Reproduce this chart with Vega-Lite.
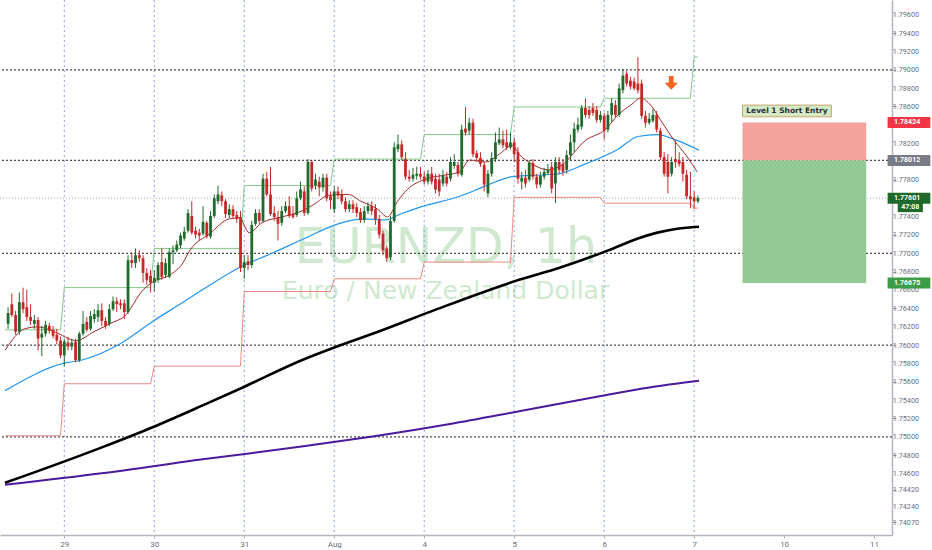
{
  "$schema": "https://vega.github.io/schema/vega-lite/v6.json",
  "width": 892,
  "height": 535,
  "autosize": {"type": "none"},
  "padding": {"left": 0, "top": 0, "right": 40, "bottom": 15},
  "background": "white",
  "config": {"view": {"stroke": null}, "font": "Roboto", "axis": {"labelOverlap": false}},
  "resolve": {"scale": {"color": "independent"}},
  "datasets": {
    "candles": [
      {"i":-15,"o":1.76231,"h":1.76412,"l":1.76177,"c":1.76348},
      {"i":-14,"o":1.76445,"h":1.76561,"l":1.76305,"c":1.76327},
      {"i":-13,"o":1.76327,"h":1.76370,"l":1.76113,"c":1.76145},
      {"i":-12,"o":1.76145,"h":1.76572,"l":1.76113,"c":1.76466},
      {"i":-11,"o":1.76466,"h":1.76625,"l":1.76348,"c":1.76391},
      {"i":-10,"o":1.76412,"h":1.76604,"l":1.76263,"c":1.76305},
      {"i":-9,"o":1.76305,"h":1.76445,"l":1.76220,"c":1.76263},
      {"i":-8,"o":1.76231,"h":1.76327,"l":1.76177,"c":1.76273},
      {"i":-7,"o":1.76273,"h":1.76305,"l":1.75942,"c":1.76070},
      {"i":-6,"o":1.76081,"h":1.76209,"l":1.75877,"c":1.76124},
      {"i":-5,"o":1.76124,"h":1.76263,"l":1.76091,"c":1.76220},
      {"i":-4,"o":1.76209,"h":1.76241,"l":1.76124,"c":1.76156},
      {"i":-3,"o":1.76166,"h":1.76209,"l":1.76070,"c":1.76102},
      {"i":-2,"o":1.76113,"h":1.76177,"l":1.76006,"c":1.76049},
      {"i":-1,"o":1.76049,"h":1.76091,"l":1.75856,"c":1.75888},
      {"i":0,"o":1.75888,"h":1.76070,"l":1.75770,"c":1.76038},
      {"i":1,"o":1.76027,"h":1.76091,"l":1.75942,"c":1.75984},
      {"i":2,"o":1.75984,"h":1.76070,"l":1.75942,"c":1.76027},
      {"i":3,"o":1.76038,"h":1.76070,"l":1.75813,"c":1.75835},
      {"i":4,"o":1.75835,"h":1.76145,"l":1.75813,"c":1.76124},
      {"i":5,"o":1.76124,"h":1.76370,"l":1.76102,"c":1.76231},
      {"i":6,"o":1.76252,"h":1.76305,"l":1.76145,"c":1.76166},
      {"i":7,"o":1.76177,"h":1.76370,"l":1.76156,"c":1.76316},
      {"i":8,"o":1.76284,"h":1.76391,"l":1.76241,"c":1.76338},
      {"i":9,"o":1.76305,"h":1.76445,"l":1.76252,"c":1.76380},
      {"i":10,"o":1.76380,"h":1.76455,"l":1.76209,"c":1.76263},
      {"i":11,"o":1.76263,"h":1.76305,"l":1.76177,"c":1.76209},
      {"i":12,"o":1.76231,"h":1.76445,"l":1.76209,"c":1.76391},
      {"i":13,"o":1.76391,"h":1.76529,"l":1.76370,"c":1.76477},
      {"i":14,"o":1.76477,"h":1.76519,"l":1.76359,"c":1.76445},
      {"i":15,"o":1.76455,"h":1.76498,"l":1.76391,"c":1.76434},
      {"i":16,"o":1.76455,"h":1.76498,"l":1.76284,"c":1.76359},
      {"i":17,"o":1.76359,"h":1.76979,"l":1.76338,"c":1.76925},
      {"i":18,"o":1.76925,"h":1.77011,"l":1.76839,"c":1.76893},
      {"i":19,"o":1.76893,"h":1.77053,"l":1.76839,"c":1.76979},
      {"i":20,"o":1.76979,"h":1.77032,"l":1.76904,"c":1.76946},
      {"i":21,"o":1.76946,"h":1.76979,"l":1.76679,"c":1.76786},
      {"i":22,"o":1.76786,"h":1.76839,"l":1.76658,"c":1.76711},
      {"i":23,"o":1.76754,"h":1.76818,"l":1.76572,"c":1.76679},
      {"i":24,"o":1.76679,"h":1.76818,"l":1.76583,"c":1.76732},
      {"i":25,"o":1.76711,"h":1.76904,"l":1.76679,"c":1.76872},
      {"i":26,"o":1.76904,"h":1.77053,"l":1.76711,"c":1.76743},
      {"i":27,"o":1.76765,"h":1.76946,"l":1.76732,"c":1.76893},
      {"i":28,"o":1.76743,"h":1.77053,"l":1.76732,"c":1.77011},
      {"i":29,"o":1.77011,"h":1.77085,"l":1.76882,"c":1.77032},
      {"i":30,"o":1.77032,"h":1.77139,"l":1.77011,"c":1.77096},
      {"i":31,"o":1.77085,"h":1.77225,"l":1.77053,"c":1.77193},
      {"i":32,"o":1.77161,"h":1.77289,"l":1.77139,"c":1.77235},
      {"i":33,"o":1.77246,"h":1.77481,"l":1.77225,"c":1.77439},
      {"i":34,"o":1.77407,"h":1.77567,"l":1.77203,"c":1.77225},
      {"i":35,"o":1.77246,"h":1.77289,"l":1.77161,"c":1.77203},
      {"i":36,"o":1.77225,"h":1.77268,"l":1.77139,"c":1.77193},
      {"i":37,"o":1.77214,"h":1.77514,"l":1.77193,"c":1.77343},
      {"i":38,"o":1.77332,"h":1.77353,"l":1.77161,"c":1.77182},
      {"i":39,"o":1.77182,"h":1.77460,"l":1.77161,"c":1.77407},
      {"i":40,"o":1.77407,"h":1.77642,"l":1.77385,"c":1.77600},
      {"i":41,"o":1.77567,"h":1.77738,"l":1.77535,"c":1.77642},
      {"i":42,"o":1.77631,"h":1.77674,"l":1.77514,"c":1.77567},
      {"i":43,"o":1.77567,"h":1.77589,"l":1.77385,"c":1.77428},
      {"i":44,"o":1.77417,"h":1.77535,"l":1.77385,"c":1.77481},
      {"i":45,"o":1.77481,"h":1.77524,"l":1.77375,"c":1.77407},
      {"i":46,"o":1.77417,"h":1.77460,"l":1.77332,"c":1.77375},
      {"i":47,"o":1.77396,"h":1.77460,"l":1.76797,"c":1.76839},
      {"i":48,"o":1.76839,"h":1.76979,"l":1.76722,"c":1.76904},
      {"i":49,"o":1.76914,"h":1.76979,"l":1.76818,"c":1.76872},
      {"i":50,"o":1.76872,"h":1.77353,"l":1.76839,"c":1.77310},
      {"i":51,"o":1.77321,"h":1.77481,"l":1.77300,"c":1.77439},
      {"i":52,"o":1.77439,"h":1.77481,"l":1.77321,"c":1.77353},
      {"i":53,"o":1.77353,"h":1.77867,"l":1.77332,"c":1.77813},
      {"i":54,"o":1.77813,"h":1.77888,"l":1.77621,"c":1.77642},
      {"i":55,"o":1.77642,"h":1.77942,"l":1.77407,"c":1.77428},
      {"i":56,"o":1.77439,"h":1.77514,"l":1.77353,"c":1.77396},
      {"i":57,"o":1.77396,"h":1.77460,"l":1.77139,"c":1.77321},
      {"i":58,"o":1.77332,"h":1.77514,"l":1.77300,"c":1.77460},
      {"i":59,"o":1.77460,"h":1.77567,"l":1.77439,"c":1.77514},
      {"i":60,"o":1.77514,"h":1.77621,"l":1.77385,"c":1.77407},
      {"i":61,"o":1.77428,"h":1.77514,"l":1.77375,"c":1.77396},
      {"i":62,"o":1.77417,"h":1.77674,"l":1.77396,"c":1.77600},
      {"i":63,"o":1.77600,"h":1.77781,"l":1.77578,"c":1.77695},
      {"i":64,"o":1.77674,"h":1.77728,"l":1.77407,"c":1.77439},
      {"i":65,"o":1.77439,"h":1.78027,"l":1.77417,"c":1.77995},
      {"i":66,"o":1.77995,"h":1.78016,"l":1.77674,"c":1.77706},
      {"i":67,"o":1.77738,"h":1.77867,"l":1.77695,"c":1.77803},
      {"i":68,"o":1.77781,"h":1.77835,"l":1.77621,"c":1.77717},
      {"i":69,"o":1.77717,"h":1.77867,"l":1.77674,"c":1.77824},
      {"i":70,"o":1.77824,"h":1.77867,"l":1.77567,"c":1.77600},
      {"i":71,"o":1.77621,"h":1.77674,"l":1.77481,"c":1.77578},
      {"i":72,"o":1.77481,"h":1.77728,"l":1.77439,"c":1.77674},
      {"i":73,"o":1.77674,"h":1.77728,"l":1.77589,"c":1.77631},
      {"i":74,"o":1.77642,"h":1.77695,"l":1.77535,"c":1.77567},
      {"i":75,"o":1.77567,"h":1.77610,"l":1.77449,"c":1.77481},
      {"i":76,"o":1.77481,"h":1.77578,"l":1.77449,"c":1.77535},
      {"i":77,"o":1.77535,"h":1.77578,"l":1.77439,"c":1.77481},
      {"i":78,"o":1.77503,"h":1.77546,"l":1.77396,"c":1.77439},
      {"i":79,"o":1.77449,"h":1.77492,"l":1.77332,"c":1.77364},
      {"i":80,"o":1.77364,"h":1.77514,"l":1.77332,"c":1.77460},
      {"i":81,"o":1.77460,"h":1.77556,"l":1.77428,"c":1.77514},
      {"i":82,"o":1.77514,"h":1.77567,"l":1.77417,"c":1.77460},
      {"i":83,"o":1.77481,"h":1.77535,"l":1.77310,"c":1.77375},
      {"i":84,"o":1.77375,"h":1.77417,"l":1.77161,"c":1.77203},
      {"i":85,"o":1.77214,"h":1.77246,"l":1.76979,"c":1.77032},
      {"i":86,"o":1.77053,"h":1.77085,"l":1.76904,"c":1.76946},
      {"i":87,"o":1.76957,"h":1.77407,"l":1.76925,"c":1.77353},
      {"i":88,"o":1.77353,"h":1.78209,"l":1.77332,"c":1.78155},
      {"i":89,"o":1.78134,"h":1.78294,"l":1.78102,"c":1.78187},
      {"i":90,"o":1.78187,"h":1.78230,"l":1.78016,"c":1.78048},
      {"i":91,"o":1.78027,"h":1.78102,"l":1.77803,"c":1.77835},
      {"i":92,"o":1.77835,"h":1.77909,"l":1.77781,"c":1.77813},
      {"i":93,"o":1.77813,"h":1.77931,"l":1.77781,"c":1.77856},
      {"i":94,"o":1.77845,"h":1.77942,"l":1.77803,"c":1.77867},
      {"i":95,"o":1.77867,"h":1.77942,"l":1.77803,"c":1.77835},
      {"i":96,"o":1.77835,"h":1.77888,"l":1.77749,"c":1.77781},
      {"i":97,"o":1.77781,"h":1.77909,"l":1.77749,"c":1.77867},
      {"i":98,"o":1.77867,"h":1.77942,"l":1.77749,"c":1.77781},
      {"i":99,"o":1.77813,"h":1.77867,"l":1.77653,"c":1.77695},
      {"i":100,"o":1.77803,"h":1.77867,"l":1.77621,"c":1.77674},
      {"i":101,"o":1.77760,"h":1.77909,"l":1.77728,"c":1.77845},
      {"i":102,"o":1.77835,"h":1.77888,"l":1.77728,"c":1.77760},
      {"i":103,"o":1.77813,"h":1.78048,"l":1.77781,"c":1.77995},
      {"i":104,"o":1.77952,"h":1.78080,"l":1.77920,"c":1.77995},
      {"i":105,"o":1.77963,"h":1.77995,"l":1.77835,"c":1.77867},
      {"i":106,"o":1.77856,"h":1.78402,"l":1.77835,"c":1.78348},
      {"i":107,"o":1.78359,"h":1.78594,"l":1.78284,"c":1.78316},
      {"i":108,"o":1.78337,"h":1.78477,"l":1.78295,"c":1.78423},
      {"i":109,"o":1.78423,"h":1.78466,"l":1.78048,"c":1.78080},
      {"i":110,"o":1.78091,"h":1.78123,"l":1.77995,"c":1.78038},
      {"i":111,"o":1.78038,"h":1.78102,"l":1.77942,"c":1.77974},
      {"i":112,"o":1.77963,"h":1.77995,"l":1.77674,"c":1.77749},
      {"i":113,"o":1.77653,"h":1.77909,"l":1.77610,"c":1.77867},
      {"i":114,"o":1.77867,"h":1.78102,"l":1.77835,"c":1.78038},
      {"i":115,"o":1.78027,"h":1.78316,"l":1.77995,"c":1.78209},
      {"i":116,"o":1.78198,"h":1.78370,"l":1.78177,"c":1.78241},
      {"i":117,"o":1.78241,"h":1.78337,"l":1.78145,"c":1.78177},
      {"i":118,"o":1.78209,"h":1.78348,"l":1.78123,"c":1.78155},
      {"i":119,"o":1.78155,"h":1.78316,"l":1.78134,"c":1.78209},
      {"i":120,"o":1.78209,"h":1.78262,"l":1.77995,"c":1.78080},
      {"i":121,"o":1.78102,"h":1.78155,"l":1.77760,"c":1.77813},
      {"i":122,"o":1.77781,"h":1.77888,"l":1.77695,"c":1.77824},
      {"i":123,"o":1.77824,"h":1.77909,"l":1.77717,"c":1.77760},
      {"i":124,"o":1.77803,"h":1.78016,"l":1.77781,"c":1.77984},
      {"i":125,"o":1.77984,"h":1.78027,"l":1.77803,"c":1.77835},
      {"i":126,"o":1.77835,"h":1.77867,"l":1.77706,"c":1.77749},
      {"i":127,"o":1.77749,"h":1.77888,"l":1.77717,"c":1.77845},
      {"i":128,"o":1.77835,"h":1.77931,"l":1.77803,"c":1.77888},
      {"i":129,"o":1.77877,"h":1.77974,"l":1.77856,"c":1.77909},
      {"i":130,"o":1.77942,"h":1.77995,"l":1.77653,"c":1.77706},
      {"i":131,"o":1.77760,"h":1.78048,"l":1.77546,"c":1.77995},
      {"i":132,"o":1.77995,"h":1.78048,"l":1.77867,"c":1.77909},
      {"i":133,"o":1.77974,"h":1.78027,"l":1.77845,"c":1.77888},
      {"i":134,"o":1.77909,"h":1.78123,"l":1.77867,"c":1.78070},
      {"i":135,"o":1.78070,"h":1.78295,"l":1.78016,"c":1.78209},
      {"i":136,"o":1.78209,"h":1.78423,"l":1.78102,"c":1.78359},
      {"i":137,"o":1.78348,"h":1.78477,"l":1.78316,"c":1.78402},
      {"i":138,"o":1.78380,"h":1.78615,"l":1.78348,"c":1.78583},
      {"i":139,"o":1.78583,"h":1.78690,"l":1.78477,"c":1.78508},
      {"i":140,"o":1.78562,"h":1.78604,"l":1.78466,"c":1.78508},
      {"i":141,"o":1.78583,"h":1.78637,"l":1.78498,"c":1.78530},
      {"i":142,"o":1.78562,"h":1.78604,"l":1.78423,"c":1.78455},
      {"i":143,"o":1.78455,"h":1.78551,"l":1.78423,"c":1.78508},
      {"i":144,"o":1.78498,"h":1.78530,"l":1.78241,"c":1.78337},
      {"i":145,"o":1.78348,"h":1.78551,"l":1.78316,"c":1.78508},
      {"i":146,"o":1.78508,"h":1.78690,"l":1.78423,"c":1.78637},
      {"i":147,"o":1.78615,"h":1.78669,"l":1.78477,"c":1.78508},
      {"i":148,"o":1.78508,"h":1.78850,"l":1.78487,"c":1.78797},
      {"i":149,"o":1.78776,"h":1.79011,"l":1.78743,"c":1.78936},
      {"i":150,"o":1.78957,"h":1.78989,"l":1.78818,"c":1.78850},
      {"i":151,"o":1.78882,"h":1.78925,"l":1.78786,"c":1.78818},
      {"i":152,"o":1.78872,"h":1.78915,"l":1.78776,"c":1.78797},
      {"i":153,"o":1.78850,"h":1.79139,"l":1.78743,"c":1.78776},
      {"i":154,"o":1.78850,"h":1.78893,"l":1.78466,"c":1.78498},
      {"i":155,"o":1.78498,"h":1.78551,"l":1.78370,"c":1.78423},
      {"i":156,"o":1.78423,"h":1.78530,"l":1.78402,"c":1.78466},
      {"i":157,"o":1.78444,"h":1.78572,"l":1.78423,"c":1.78508},
      {"i":158,"o":1.78508,"h":1.78551,"l":1.78316,"c":1.78348},
      {"i":159,"o":1.78337,"h":1.78370,"l":1.78016,"c":1.78048},
      {"i":160,"o":1.78048,"h":1.78102,"l":1.77835,"c":1.77867},
      {"i":161,"o":1.77995,"h":1.78080,"l":1.77653,"c":1.77835},
      {"i":162,"o":1.77867,"h":1.78048,"l":1.77835,"c":1.77995},
      {"i":163,"o":1.78027,"h":1.78230,"l":1.77931,"c":1.77995},
      {"i":164,"o":1.78016,"h":1.78102,"l":1.77942,"c":1.77974},
      {"i":165,"o":1.77995,"h":1.78048,"l":1.77781,"c":1.77867},
      {"i":166,"o":1.77856,"h":1.77909,"l":1.77589,"c":1.77621},
      {"i":167,"o":1.77621,"h":1.77888,"l":1.77492,"c":1.77589},
      {"i":168,"o":1.77610,"h":1.77674,"l":1.77481,"c":1.77567},
      {"i":169,"o":1.77567,"h":1.77631,"l":1.77546,"c":1.77601}
    ],
    "ma": [
      {"s":"fast","i":-15.82,"p":1.75942},{"s":"fast","i":-10.55,"p":1.76177},{"s":"fast","i":-7.12,"p":1.76198},{"s":"fast","i":-2.64,"p":1.76145},
      {"s":"fast","i":3.16,"p":1.76049},{"s":"fast","i":7.91,"p":1.76145},{"s":"fast","i":13.19,"p":1.76252},{"s":"fast","i":15.82,"p":1.76305},
      {"s":"fast","i":21.1,"p":1.76604},{"s":"fast","i":23.7,"p":1.7669},{"s":"fast","i":28.2,"p":1.76765},{"s":"fast","i":31.6,"p":1.76893},
      {"s":"fast","i":33.5,"p":1.77032},{"s":"fast","i":38.8,"p":1.77214},{"s":"fast","i":44.0,"p":1.77375},{"s":"fast","i":46.7,"p":1.77385},
      {"s":"fast","i":49.3,"p":1.77225},{"s":"fast","i":52.7,"p":1.77332},{"s":"fast","i":58.0,"p":1.77396},{"s":"fast","i":63.3,"p":1.7746},
      {"s":"fast","i":66.7,"p":1.77535},{"s":"fast","i":70.4,"p":1.77631},{"s":"fast","i":75.7,"p":1.77642},{"s":"fast","i":79.1,"p":1.77567},
      {"s":"fast","i":83.6,"p":1.77481},{"s":"fast","i":86.2,"p":1.77396},{"s":"fast","i":88.9,"p":1.77567},{"s":"fast","i":91.5,"p":1.77695},
      {"s":"fast","i":96.8,"p":1.77813},{"s":"fast","i":102.1,"p":1.77856},{"s":"fast","i":105.5,"p":1.77888},{"s":"fast","i":108.1,"p":1.78016},
      {"s":"fast","i":112.6,"p":1.77995},{"s":"fast","i":116.0,"p":1.7808},{"s":"fast","i":119.5,"p":1.78177},{"s":"fast","i":121.3,"p":1.7808},
      {"s":"fast","i":124.7,"p":1.77974},{"s":"fast","i":129.2,"p":1.77909},{"s":"fast","i":132.7,"p":1.77963},{"s":"fast","i":139.0,"p":1.7823},
      {"s":"fast","i":144.3,"p":1.78348},{"s":"fast","i":147.7,"p":1.78508},{"s":"fast","i":151.1,"p":1.78615},{"s":"fast","i":153.7,"p":1.7869},
      {"s":"fast","i":156.4,"p":1.78615},{"s":"fast","i":159.0,"p":1.78455},{"s":"fast","i":162.7,"p":1.7823},{"s":"fast","i":166.2,"p":1.78048},
      {"s":"fast","i":168.8,"p":1.77888},
      {"s":"mid","i":-15.82,"p":1.75503},{"s":"mid","i":0,"p":1.75802},{"s":"mid","i":4.48,"p":1.75834},{"s":"mid","i":15.03,"p":1.76016},
      {"s":"mid","i":23.74,"p":1.76262},{"s":"mid","i":31.65,"p":1.76465},{"s":"mid","i":36.92,"p":1.76604},{"s":"mid","i":47.47,"p":1.76861},
      {"s":"mid","i":55.38,"p":1.77},{"s":"mid","i":64.09,"p":1.77161},{"s":"mid","i":73.05,"p":1.77321},{"s":"mid","i":79.91,"p":1.77375},
      {"s":"mid","i":85.71,"p":1.77364},{"s":"mid","i":89.66,"p":1.77428},{"s":"mid","i":94.94,"p":1.77503},{"s":"mid","i":105.49,"p":1.77621},
      {"s":"mid","i":112.61,"p":1.77738},{"s":"mid","i":119.47,"p":1.77835},{"s":"mid","i":128.44,"p":1.77856},{"s":"mid","i":131.87,"p":1.77866},
      {"s":"mid","i":138.99,"p":1.77974},{"s":"mid","i":147.69,"p":1.78134},{"s":"mid","i":152.97,"p":1.78273},{"s":"mid","i":158.24,"p":1.78294},
      {"s":"mid","i":162.72,"p":1.78241},{"s":"mid","i":169.31,"p":1.78123},
      {"s":"slow","i":-15.82,"p":1.74498},{"s":"slow","i":10.55,"p":1.74893},{"s":"slow","i":23.74,"p":1.75107},{"s":"slow","i":36.92,"p":1.75342},
      {"s":"slow","i":47.47,"p":1.75535},{"s":"slow","i":63.3,"p":1.75834},{"s":"slow","i":72.0,"p":1.75973},{"s":"slow","i":84.4,"p":1.76155},
      {"s":"slow","i":99.4,"p":1.76391},{"s":"slow","i":121.3,"p":1.76711},{"s":"slow","i":131.9,"p":1.7684},{"s":"slow","i":145.1,"p":1.77032},
      {"s":"slow","i":153.0,"p":1.77161},{"s":"slow","i":158.2,"p":1.77225},{"s":"slow","i":163.5,"p":1.77268},{"s":"slow","i":169.3,"p":1.77289},
      {"s":"long","i":-15.82,"p":1.74476},{"s":"long","i":10.55,"p":1.74604},{"s":"long","i":36.92,"p":1.74754},{"s":"long","i":63.3,"p":1.74893},
      {"s":"long","i":81.76,"p":1.75},{"s":"long","i":102.86,"p":1.75139},{"s":"long","i":121.32,"p":1.75278},{"s":"long","i":142.42,"p":1.75439},
      {"s":"long","i":155.6,"p":1.75535},{"s":"long","i":169.3,"p":1.7561}
    ],
    "prevday": [
      {"s":"high","i":-15.82,"p":1.76166},{"s":"high","i":-1,"p":1.76166},
      {"s":"high","i":0,"p":1.76626},{"s":"high","i":23,"p":1.76626},{"s":"high","i":24,"p":1.77053},{"s":"high","i":47,"p":1.77053},
      {"s":"high","i":48,"p":1.77738},{"s":"high","i":71,"p":1.77738},{"s":"high","i":72,"p":1.78027},{"s":"high","i":95,"p":1.78027},
      {"s":"high","i":96,"p":1.78294},{"s":"high","i":119,"p":1.78294},{"s":"high","i":120,"p":1.78594},{"s":"high","i":143,"p":1.78594},
      {"s":"high","i":144,"p":1.7869},{"s":"high","i":167,"p":1.7869},{"s":"high","i":168,"p":1.79139},{"s":"high","i":169,"p":1.79139},
      {"s":"low","i":-15.82,"p":1.75011},{"s":"low","i":-1,"p":1.75011},
      {"s":"low","i":0,"p":1.75578},{"s":"low","i":23,"p":1.75578},{"s":"low","i":24,"p":1.7577},{"s":"low","i":47,"p":1.7577},
      {"s":"low","i":48,"p":1.76583},{"s":"low","i":71,"p":1.76583},{"s":"low","i":72,"p":1.76722},{"s":"low","i":95,"p":1.76722},
      {"s":"low","i":96,"p":1.76904},{"s":"low","i":119,"p":1.76904},{"s":"low","i":120,"p":1.7761},{"s":"low","i":143,"p":1.7761},
      {"s":"low","i":144,"p":1.77546},{"s":"low","i":167,"p":1.77546},{"s":"low","i":168,"p":1.77492},{"s":"low","i":169,"p":1.77492}
    ],
    "days": [{"i":0},{"i":24},{"i":48},{"i":72},{"i":96},{"i":120},{"i":144},{"i":168}],
    "levels": [{"p":1.79},{"p":1.78012},{"p":1.77},{"p":1.76},{"p":1.75}],
    "yticks": [{"p":1.7407},{"p":1.7424},{"p":1.7442},{"p":1.746},{"p":1.748},{"p":1.75},{"p":1.752},{"p":1.754},{"p":1.756},{"p":1.758},{"p":1.76},{"p":1.762},{"p":1.764},{"p":1.766},{"p":1.768},{"p":1.77},{"p":1.772},{"p":1.774},{"p":1.778},{"p":1.782},{"p":1.786},{"p":1.788},{"p":1.79},{"p":1.792},{"p":1.794},{"p":1.796}],
    "position": [{"part":"stop","lo":1.78012,"hi":1.78424},{"part":"target","lo":1.76675,"hi":1.78012}],
    "tags": [
      {"t":"1.78424","p":1.78424,"k":"stop"},
      {"t":"1.78012","p":1.78012,"k":"entry"},
      {"t":"1.77601","p":1.77601,"k":"last"},
      {"t":"1.76675","p":1.76675,"k":"target"}
    ]
  },
  "layer": [
    {
      "data": {"name": "candles"},
      "mark": {"type": "rule", "strokeWidth": 1, "opacity": 0},
      "encoding": {
        "x": {"field": "i", "type": "quantitative", "title": null, "scale": {"domain": [-15.82, 219.44], "nice": false, "zero": false},
              "axis": {"values": [0,24,48,72,96,120,144,168,192,216], "labelExpr": "['29','30','31','Aug','4','5','6','7','10','11'][round(datum.value/24)]", "title": null, "grid": false, "domainColor": "#b2b5be", "domainWidth": 1.5, "tickColor": "#b2b5be", "tickSize": 3, "labelFont": "Roboto", "labelFontSize": 8, "labelColor": "#6a6d78", "labelPadding": 2, "labelFlush": false, "labelOverlap": false}},
        "y": {"field": "l", "type": "quantitative", "title": null, "scale": {"domain": [1.73984, 1.79706], "nice": false, "zero": false},
              "axis": {"orient": "right", "values": [1.7407,1.7424,1.7442,1.746,1.748,1.75,1.752,1.754,1.756,1.758,1.76,1.762,1.764,1.766,1.768,1.77,1.772,1.774,1.778,1.782,1.786,1.788,1.79,1.792,1.794,1.796], "labels": false, "title": null, "grid": false, "domainColor": "#b2b5be", "domainWidth": 1.5, "tickColor": "#9598a1", "tickSize": 4}},
        "y2": {"field": "h"}
      }
    },
    {
      "data": {"values": [{"t": "EURNZD, 1h"}]},
      "mark": {"type": "text", "font": "DejaVu Sans", "fontSize": 49, "fill": "#4caf50", "opacity": 0.27, "align": "center", "baseline": "alphabetic"},
      "encoding": {
        "x": {"datum": 101.8, "type": "quantitative", "title": null},
        "y": {"datum": 1.76893, "type": "quantitative", "title": null},
        "text": {"field": "t"}
      }
    },
    {
      "data": {"values": [{"t": "Euro / New Zealand Dollar"}]},
      "mark": {"type": "text", "font": "DejaVu Sans", "fontSize": 25, "fill": "#4caf50", "opacity": 0.27, "align": "center", "baseline": "alphabetic"},
      "encoding": {
        "x": {"datum": 101.7, "type": "quantitative", "title": null},
        "y": {"datum": 1.76498, "type": "quantitative", "title": null},
        "text": {"field": "t"}
      }
    },
    {
      "data": {"name": "days"},
      "mark": {"type": "rule", "color": "#8fa4e6", "strokeWidth": 1, "strokeDash": [2, 3]},
      "encoding": {
        "x": {"field": "i", "type": "quantitative", "title": null}
      }
    },
    {
      "data": {"name": "levels"},
      "mark": {"type": "rule", "color": "#4a4a4a", "strokeWidth": 1.2, "strokeDash": [2, 2]},
      "encoding": {
        "y": {"field": "p", "type": "quantitative", "title": null}
      }
    },
    {
      "data": {"values": [{"p": 1.77601}]},
      "mark": {"type": "rule", "color": "#a0a3ab", "strokeWidth": 1, "strokeDash": [1, 2]},
      "encoding": {
        "y": {"field": "p", "type": "quantitative", "title": null}
      }
    },
    {
      "data": {"name": "prevday"},
      "transform": [{"filter": "datum.s == 'high'"}],
      "mark": {"type": "line", "color": "#86c98a", "strokeWidth": 1},
      "encoding": {
        "x": {"field": "i", "type": "quantitative", "title": null},
        "y": {"field": "p", "type": "quantitative", "title": null},
        "order": {"field": "i"}
      }
    },
    {
      "data": {"name": "prevday"},
      "transform": [{"filter": "datum.s == 'low'"}],
      "mark": {"type": "line", "color": "#ef8a80", "strokeWidth": 1},
      "encoding": {
        "x": {"field": "i", "type": "quantitative", "title": null},
        "y": {"field": "p", "type": "quantitative", "title": null},
        "order": {"field": "i"}
      }
    },
    {
      "data": {"name": "ma"},
      "transform": [{"filter": "datum.s == 'long'"}],
      "mark": {"type": "line", "color": "#4a1a9e", "strokeWidth": 2, "interpolate": "monotone"},
      "encoding": {
        "x": {"field": "i", "type": "quantitative", "title": null},
        "y": {"field": "p", "type": "quantitative", "title": null}
      }
    },
    {
      "data": {"name": "ma"},
      "transform": [{"filter": "datum.s == 'slow'"}],
      "mark": {"type": "line", "color": "#000000", "strokeWidth": 2.6, "interpolate": "monotone"},
      "encoding": {
        "x": {"field": "i", "type": "quantitative", "title": null},
        "y": {"field": "p", "type": "quantitative", "title": null}
      }
    },
    {
      "data": {"name": "ma"},
      "transform": [{"filter": "datum.s == 'mid'"}],
      "mark": {"type": "line", "color": "#2196f3", "strokeWidth": 1.2, "interpolate": "monotone"},
      "encoding": {
        "x": {"field": "i", "type": "quantitative", "title": null},
        "y": {"field": "p", "type": "quantitative", "title": null}
      }
    },
    {
      "data": {"name": "ma"},
      "transform": [{"filter": "datum.s == 'fast'"}],
      "mark": {"type": "line", "color": "#a52a2a", "strokeWidth": 1, "interpolate": "monotone"},
      "encoding": {
        "x": {"field": "i", "type": "quantitative", "title": null},
        "y": {"field": "p", "type": "quantitative", "title": null}
      }
    },
    {
      "data": {"name": "candles"},
      "mark": {"type": "rule", "strokeWidth": 1, "opacity": 1},
      "encoding": {
        "x": {"field": "i", "type": "quantitative", "title": null},
        "y": {"field": "l", "type": "quantitative", "title": null},
        "y2": {"field": "h"},
        "color": {"condition": {"test": "datum.c >= datum.o", "value": "#1e6b2c"}, "value": "#c62828"}
      }
    },
    {
      "data": {"name": "candles"},
      "mark": {"type": "bar", "width": 2.8, "opacity": 1},
      "encoding": {
        "x": {"field": "i", "type": "quantitative", "title": null},
        "y": {"field": "o", "type": "quantitative", "title": null},
        "y2": {"field": "c"},
        "color": {"condition": {"test": "datum.c >= datum.o", "value": "#1e6b2c"}, "value": "#c62828"}
      }
    },
    {
      "data": {"name": "position"},
      "mark": {"type": "rect", "opacity": 1},
      "encoding": {
        "x": {"datum": 180.9, "type": "quantitative", "title": null},
        "x2": {"datum": 213.9},
        "y": {"field": "lo", "type": "quantitative", "title": null},
        "y2": {"field": "hi"},
        "color": {"field": "part", "type": "nominal", "scale": {"domain": ["stop", "target"], "range": ["#f5a29d", "#93c994"]}, "legend": null}
      }
    },
    {
      "data": {"values": [{"t": "Level 1 Short Entry"}]},
      "mark": {"type": "rect", "fill": "#d3eac4", "stroke": "#c9a46a", "strokeWidth": 1, "opacity": 1},
      "encoding": {
        "x": {"datum": 180.9, "type": "quantitative", "title": null},
        "x2": {"datum": 204.6},
        "y": {"datum": 1.78487, "type": "quantitative", "title": null},
        "y2": {"datum": 1.78615}
      }
    },
    {
      "data": {"values": [{"t": "Level 1 Short Entry"}]},
      "mark": {"type": "text", "font": "DejaVu Sans", "fontSize": 7.5, "fontWeight": "bold", "fill": "#2a2e39", "align": "center", "baseline": "middle"},
      "encoding": {
        "x": {"datum": 192.75, "type": "quantitative", "title": null},
        "y": {"datum": 1.78551, "type": "quantitative", "title": null},
        "text": {"field": "t"}
      }
    },
    {
      "data": {"values": [{"t": "arrow"}]},
      "mark": {"type": "point", "shape": "M-0.32,-1 L0.32,-1 L0.32,-0.1 L0.9,-0.1 L0,0.85 L-0.9,-0.1 L-0.32,-0.1 Z", "size": 220, "filled": true, "fill": "#f4661b", "opacity": 1, "strokeWidth": 0},
      "encoding": {
        "x": {"datum": 161.9, "type": "quantitative", "title": null},
        "y": {"datum": 1.7885, "type": "quantitative", "title": null}
      }
    },
    {
      "data": {"name": "yticks"},
      "mark": {"type": "text", "font": "Roboto", "fontSize": 7.2, "fill": "#6a6d78", "align": "left", "baseline": "middle", "dy": 0.5},
      "encoding": {
        "x": {"datum": 221.0, "type": "quantitative", "title": null},
        "y": {"field": "p", "type": "quantitative", "title": null},
        "text": {"field": "p", "type": "quantitative", "format": ".5f"}
      }
    },
    {
      "data": {"name": "tags"},
      "mark": {"type": "bar", "orient": "horizontal", "size": 11, "opacity": 1},
      "encoding": {
        "x": {"datum": 219.6, "type": "quantitative", "title": null},
        "x2": {"datum": 231},
        "y": {"field": "p", "type": "quantitative", "title": null},
        "color": {"field": "k", "type": "nominal", "scale": {"domain": ["stop", "entry", "last", "target"], "range": ["#f23645", "#787b86", "#1f6a2b", "#3f9c46"]}, "legend": null}
      }
    },
    {
      "data": {"values": [{"t": "47:08", "p": 1.77503}]},
      "mark": {"type": "bar", "orient": "horizontal", "size": 10, "color": "#1f6a2b", "opacity": 1},
      "encoding": {
        "x": {"datum": 222.3, "type": "quantitative", "title": null},
        "x2": {"datum": 229.0},
        "y": {"field": "p", "type": "quantitative", "title": null}
      }
    },
    {
      "data": {"name": "tags"},
      "mark": {"type": "text", "font": "Roboto", "fontSize": 7, "fontWeight": "bold", "fill": "white", "align": "center", "baseline": "middle", "dy": -0.5},
      "encoding": {
        "x": {"datum": 224.8, "type": "quantitative", "title": null},
        "y": {"field": "p", "type": "quantitative", "title": null},
        "text": {"field": "t"}
      }
    },
    {
      "data": {"values": [{"t": "47:08", "p": 1.77503}]},
      "mark": {"type": "text", "font": "Roboto", "fontSize": 7, "fontWeight": "bold", "fill": "white", "align": "center", "baseline": "middle"},
      "encoding": {
        "x": {"datum": 225.65, "type": "quantitative", "title": null},
        "y": {"field": "p", "type": "quantitative", "title": null},
        "text": {"field": "t"}
      }
    }
  ]
}
